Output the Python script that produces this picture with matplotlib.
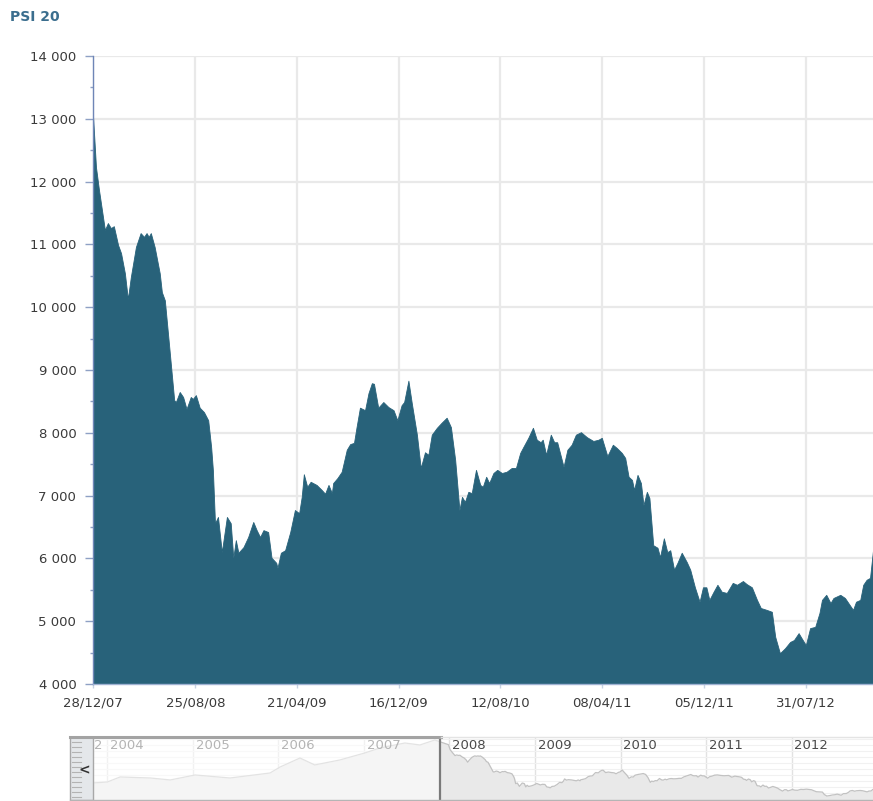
import matplotlib
matplotlib.use("Agg")
import matplotlib.pyplot as plt
import matplotlib.dates as mdates
from matplotlib.lines import Line2D
from matplotlib.patches import Rectangle
from matplotlib.ticker import FuncFormatter, FixedLocator, MultipleLocator
import pandas as pd

# ---------------- data ----------------
title = "PSI 20"

dates = [
    "2007-12-28", "2008-01-04", "2008-01-11", "2008-01-25", "2008-02-01", "2008-02-08", "2008-02-15",
    "2008-02-25", "2008-03-03", "2008-03-12", "2008-03-19", "2008-03-26", "2008-04-07", "2008-04-18",
    "2008-04-26", "2008-05-02", "2008-05-07", "2008-05-12", "2008-05-21", "2008-06-02", "2008-06-07",
    "2008-06-14", "2008-06-25", "2008-07-06", "2008-07-10", "2008-07-19", "2008-07-27", "2008-08-04",
    "2008-08-14", "2008-08-19", "2008-08-26", "2008-09-04", "2008-09-14", "2008-09-24", "2008-10-01",
    "2008-10-05", "2008-10-10", "2008-10-17", "2008-10-26", "2008-11-07", "2008-11-16", "2008-11-22",
    "2008-11-28", "2008-12-04", "2008-12-16", "2008-12-27", "2009-01-08", "2009-01-16", "2009-01-24",
    "2009-02-01", "2009-02-12", "2009-02-20", "2009-03-03", "2009-03-06", "2009-03-14", "2009-03-24",
    "2009-04-05", "2009-04-16", "2009-04-26", "2009-05-02", "2009-05-07", "2009-05-15", "2009-05-23",
    "2009-06-06", "2009-06-18", "2009-06-26", "2009-07-04", "2009-07-12", "2009-07-15", "2009-07-25",
    "2009-08-04", "2009-08-16", "2009-08-24", "2009-09-02", "2009-09-08", "2009-09-16", "2009-09-28",
    "2009-10-06", "2009-10-14", "2009-10-19", "2009-10-29", "2009-11-10", "2009-11-22", "2009-12-04",
    "2009-12-13", "2009-12-23", "2009-12-29", "2010-01-08", "2010-01-16", "2010-01-28", "2010-02-06",
    "2010-02-16", "2010-02-24", "2010-03-04", "2010-03-16", "2010-03-27", "2010-04-08", "2010-04-18",
    "2010-04-28", "2010-05-02", "2010-05-08", "2010-05-14", "2010-05-21", "2010-05-29", "2010-06-06",
    "2010-06-16", "2010-06-26", "2010-07-02", "2010-07-10", "2010-07-17", "2010-07-27", "2010-08-05",
    "2010-08-16", "2010-08-27", "2010-09-08", "2010-09-18", "2010-09-28", "2010-10-05", "2010-10-17",
    "2010-10-28", "2010-11-06", "2010-11-15", "2010-11-20", "2010-11-28", "2010-12-09", "2010-12-17",
    "2010-12-24", "2011-01-08", "2011-01-17", "2011-01-27", "2011-02-06", "2011-02-18", "2011-03-04",
    "2011-03-19", "2011-03-31", "2011-04-08", "2011-04-21", "2011-05-04", "2011-05-13", "2011-05-25",
    "2011-06-02", "2011-06-10", "2011-06-18", "2011-06-23", "2011-07-01", "2011-07-09", "2011-07-15",
    "2011-07-23", "2011-07-29", "2011-08-07", "2011-08-17", "2011-08-23", "2011-09-01", "2011-09-09",
    "2011-09-16", "2011-09-25", "2011-10-03", "2011-10-13", "2011-10-25", "2011-11-02", "2011-11-13",
    "2011-11-24", "2011-12-02", "2011-12-10", "2011-12-17", "2011-12-27", "2012-01-05", "2012-01-15",
    "2012-01-27", "2012-02-10", "2012-02-20", "2012-03-05", "2012-03-14", "2012-03-26", "2012-04-07",
    "2012-04-16", "2012-04-30", "2012-05-12", "2012-05-20", "2012-05-31", "2012-06-12", "2012-06-24",
    "2012-07-03", "2012-07-14", "2012-07-21", "2012-07-31", "2012-08-10", "2012-08-22", "2012-09-01",
    "2012-09-07", "2012-09-17", "2012-09-27", "2012-10-04", "2012-10-20", "2012-10-31", "2012-11-08",
    "2012-11-19", "2012-11-26", "2012-12-06", "2012-12-13", "2012-12-21", "2012-12-29", "2013-01-05",
]
values = [
    13050, 12230, 11870, 11230, 11340, 11260, 11290,
    10990, 10860, 10540, 10130, 10480, 10960, 11180,
    11120, 11180, 11120, 11180, 10960, 10540, 10240,
    10110, 9320, 8520, 8490, 8650, 8570, 8380,
    8570, 8540, 8600, 8400, 8330, 8200, 7770,
    7410, 6560, 6660, 6100, 6660, 6560, 6010,
    6290, 6090, 6180, 6340, 6580, 6450, 6340,
    6450, 6420, 6010, 5930, 5850, 6090, 6130,
    6420, 6770, 6720, 6980, 7340, 7140, 7220,
    7170, 7090, 7030, 7170, 7040, 7200, 7280,
    7380, 7730, 7820, 7840, 8090, 8400, 8360,
    8630, 8790, 8780, 8400, 8490, 8410, 8360,
    8200, 8440, 8490, 8830, 8470, 7970, 7440,
    7690, 7650, 7970, 8080, 8160, 8240, 8090,
    7570, 7250, 6770, 6980, 6900, 7060, 7040,
    7410, 7170, 7140, 7300, 7200, 7360, 7410,
    7360, 7380, 7440, 7440, 7680, 7770, 7920,
    8080, 7890, 7850, 7890, 7650, 7970, 7850,
    7850, 7460, 7730, 7810, 7970, 8010, 7930,
    7870, 7890, 7920, 7630, 7810, 7760, 7680,
    7600, 7300, 7250, 7090, 7330, 7200, 6850,
    7060, 6960, 6210, 6170, 6020, 6320, 6100,
    6130, 5820, 5930, 6090, 5940, 5820, 5540,
    5310, 5540, 5540, 5340, 5470, 5580, 5470,
    5450, 5610, 5580, 5640, 5590, 5540, 5340,
    5210, 5180, 5150, 4750, 4490, 4570, 4670,
    4700, 4810, 4730, 4620, 4890, 4910, 5130,
    5340, 5420, 5290, 5370, 5420, 5370, 5290,
    5180, 5310, 5340, 5580, 5660, 5690, 6130,
]

x_tick_labels = ["28/12/07", "25/08/08", "21/04/09", "16/12/09",
                 "12/08/10", "08/04/11", "05/12/11", "31/07/12"]
y_ticks = [4000, 5000, 6000, 7000, 8000, 9000, 10000, 11000, 12000, 13000, 14000]

# navigator: earlier history (before the main range)
nav_hist_dates = ["2003-11-01", "2004-01-01", "2004-02-25", "2004-07-02", "2004-09-26",
                  "2005-01-10", "2005-06-08", "2005-11-26", "2006-01-08", "2006-04-03",
                  "2006-06-05", "2006-09-20", "2007-01-05", "2007-03-10", "2007-06-25",
                  "2007-08-28", "2007-10-31"]
nav_hist_values = [6670, 6830, 7670, 7500, 7170,
                   8000, 7500, 8330, 9330, 10830,
                   9670, 10500, 11670, 12500, 13330,
                   13000, 13830]
nav_years = [2004, 2005, 2006, 2007, 2008, 2009, 2010, 2011, 2012]
nav_sel_start = "2007-11-20"

# ---------------- figure ----------------
W, H = 873, 801
fig = plt.figure(figsize=(W / 100, H / 100), dpi=100)
fig.patch.set_facecolor("white")

FILL = "#28627a"
TXT = "#3a3a3a"

d = pd.to_datetime(dates)
ax = fig.add_axes([93 / W, (H - 684) / H, (W - 93) / W, 628 / H])
ax.set_xlim(pd.Timestamp("2007-12-28"), pd.Timestamp("2013-01-05"))
ax.set_ylim(4000, 14000)
ax.fill_between(d, values, 4000, color=FILL, lw=0.6, edgecolor=FILL, zorder=2)

xt = pd.to_datetime(x_tick_labels, format="%d/%m/%y")
ax.set_xticks(xt)
ax.set_xticklabels(x_tick_labels)
ax.set_yticks(y_ticks)
ax.yaxis.set_major_formatter(FuncFormatter(lambda v, p: f"{int(v):,}".replace(",", " ")))
ax.yaxis.set_minor_locator(MultipleLocator(500))
ax.grid(True, color="#e9e9e9", lw=1.6, zorder=0)
ax.set_axisbelow(True)

for s in ["top", "right"]:
    ax.spines[s].set_visible(False)
ax.spines["left"].set_color("#6f86b7")
ax.spines["left"].set_linewidth(1.0)
ax.spines["bottom"].set_color("#9fb2d2")
ax.spines["bottom"].set_linewidth(1.0)
ax.spines["left"].set_zorder(5)
ax.spines["bottom"].set_zorder(5)

ax.tick_params(axis="y", which="major", length=6, width=1, color="#8ea0c4",
               labelsize=9.5, labelcolor=TXT, pad=6)
ax.tick_params(axis="y", which="minor", length=2.5, width=1, color="#8ea0c4")
ax.tick_params(axis="x", which="major", length=3, width=1, color="#c8d3e3",
               labelsize=9.5, labelcolor=TXT, pad=6)

fig.text(10 / W, 1 - 17 / H, title, fontsize=10, fontweight="bold",
         color="#3b6e8e", va="center", ha="left")

# ---------------- navigator ----------------
nav = fig.add_axes([93 / W, (H - 800) / H, (W - 93) / W, 63 / H])
nd = pd.to_datetime(nav_hist_dates + dates)
nv = nav_hist_values + values
nav_lo, nav_hi = 3830, 14330
nav.set_xlim(pd.Timestamp("2003-11-01"), pd.Timestamp("2012-12-14"))
nav.set_ylim(nav_lo, nav_hi)
nav.fill_between(nd, nv, nav_lo, color="#e9e9e9", lw=0, zorder=2)
nav.plot(nd, nv, color="#c2c2c2", lw=0.9, zorder=3)
nav.set_yticks(range(4000, 14500, 1000))
nav.set_xticks([pd.Timestamp(f"{y}-01-01") for y in nav_years])
nav.grid(True, axis="y", color="#f1f1f1", lw=0.8, zorder=0)
nav.grid(True, axis="x", color="#e2e2e2", lw=1.0, zorder=1)
nav.tick_params(length=0, labelbottom=False, labelleft=False)
for s in nav.spines.values():
    s.set_visible(False)

sel = pd.Timestamp(nav_sel_start)
nav.axvspan(pd.Timestamp("2003-11-01"), sel, color="white", alpha=0.55, lw=0, zorder=4)
for y in nav_years:
    col = "#b4b4b4" if pd.Timestamp(f"{y}-01-01") < sel else "#4a4a4a"
    nav.text(pd.Timestamp(f"{y}-01-01") + pd.Timedelta(days=12), nav_hi - 300, str(y),
             fontsize=9.5, color=col, va="top", ha="left", zorder=6)
nav.text(pd.Timestamp("2003-11-06"), nav_hi - 300, "2", fontsize=9.5, color="#b4b4b4",
         va="top", ha="left", zorder=6)
nav.axvline(sel, color="#7a7a7a", lw=1.6, zorder=7)

# frame and scroll button (figure pixel coords)
def fx(px):
    return px / W

def fy(py):
    return 1 - py / H

fig.add_artist(Line2D([fx(70), fx(441)], [fy(737), fy(737)], color="#a3a3a3", lw=2.2))
fig.add_artist(Line2D([fx(441), fx(873)], [fy(737), fy(737)], color="#e4e4e4", lw=1.0))
fig.add_artist(Line2D([fx(70), fx(873)], [fy(800), fy(800)], color="#b5b5b5", lw=1.0))
fig.add_artist(Rectangle((fx(70), fy(800)), fx(93) - fx(70), fy(737) - fy(800),
                         transform=fig.transFigure, fc="#e4e7ea", ec="#a8a8a8", lw=1.0))
for py in range(742, 799, 5):
    fig.add_artist(Line2D([fx(72), fx(81)], [fy(py), fy(py)], color="#b3b3b3", lw=0.8))
fig.text(fx(84), fy(770), "<", fontsize=10, fontweight="bold", color="#333333",
         va="center", ha="center")

fig.savefig("out.png", dpi=100, facecolor="white")
